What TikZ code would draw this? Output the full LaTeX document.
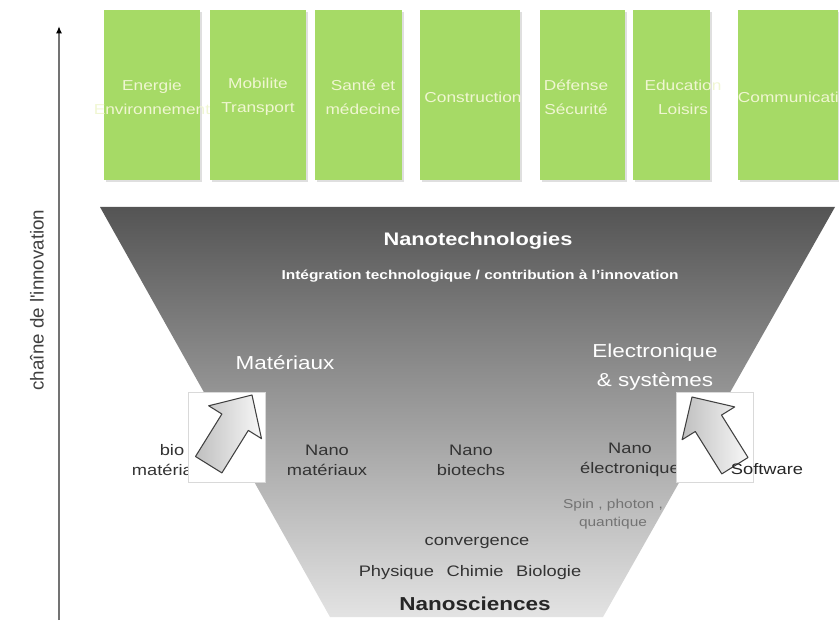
\documentclass[tikz,border=0pt]{standalone}
\usepackage{fontspec}
\setmainfont{Liberation Sans}[FakeStretch=1.2]
\newfontfamily\axefont{Liberation Sans}
\usetikzlibrary{arrows.meta, shadows}

\definecolor{vertsecteur}{RGB}{166,218,102}
\definecolor{textesecteur}{RGB}{240,246,210}

\begin{document}
\begin{tikzpicture}[
  x=0.03cm, y=-0.03cm,
  secteur/.style={rectangle, fill=vertsecteur, minimum height=5.1cm, inner sep=0pt, drop shadow={shadow xshift=0.05cm, shadow yshift=-0.05cm, opacity=0.25}},
  secteurtxt/.style={text=textesecteur, align=center, font=\fontsize{12.3}{20.5}\selectfont},
  titre/.style={text=white, font=\bfseries\fontsize{15.5}{18}\selectfont},
  soustitre/.style={text=white, font=\bfseries\fontsize{11}{13}\selectfont},
  domaine/.style={text=white, align=center, font=\fontsize{16}{24.8}\selectfont},
  nano/.style={text=black!80, align=center, font=\fontsize{13}{17}\selectfont},
  detail/.style={text=black!55, align=center, font=\fontsize{11}{15.4}\selectfont},
  apport/.style={rectangle, draw=black!15, fill=white, minimum width=2.3cm, minimum height=2.7cm},
  fleche/.style={draw=black!75, line width=0.9pt, line join=round, left color=black!25, right color=black!3},
  axe/.style={draw=black!55, line width=1.6pt, -{Latex[length=2.2mm, width=1.8mm, color=black]}}
]
\useasboundingbox (0,0) rectangle (839,623);

% axe de l'innovation
\coordinate (axe-bas) at (59,620);
\coordinate (axe-haut) at (59,26);
\draw[axe] (axe-bas) -- (axe-haut);
\node[rotate=90, text=black!75, font=\axefont\fontsize{16}{19}\selectfont] (chaine) at (37,300) {chaîne de l'innovation};

% secteurs d'application
\node[secteur, minimum width=2.88cm] (energie) at (152,95) {};
\node[secteurtxt] (energie-txt) at (152,97) {Energie\\Environnement};
\node[secteur, minimum width=2.88cm] (mobilite) at (258,95) {};
\node[secteurtxt] (mobilite-txt) at (258,97) {Mobilite\\Transport};
\node[secteur, minimum width=2.61cm] (sante) at (358.5,95) {};
\node[secteurtxt] (sante-txt) at (363,97) {Santé et\\médecine};
\node[secteur, minimum width=3cm] (construction) at (470,95) {};
\node[secteurtxt] (construction-txt) at (473,97) {Construction};
\node[secteur, minimum width=2.55cm] (defense) at (582.5,95) {};
\node[secteurtxt] (defense-txt) at (576,97) {Défense\\Sécurité};
\node[secteur, minimum width=2.31cm] (education) at (671.5,95) {};
\node[secteurtxt] (education-txt) at (683,97) {Education\\Loisirs};
\node[secteur, minimum width=3cm] (communication) at (788,95) {};
\node[secteurtxt] (communication-txt) at (798,97) {Communication};

% entonnoir
\shade[top color=black!67, bottom color=black!11] (100,207) -- (835,207) -- (603,617) -- (330,617) -- cycle;

\node[titre] (nanotech) at (478,241) {Nanotechnologies};
\node[soustitre] (integration) at (480,276) {Intégration technologique / contribution à l'innovation};
\node[domaine] (materiaux) at (285,363) {Matériaux};
\node[domaine] (electronique) at (655,367) {Electronique\\\& systèmes};

\node[nano] (biomat) at (172,460) {bio\\matériaux};
\node[nano] (nanomat) at (327,460) {Nano\\matériaux};
\node[nano] (nanobio) at (471,460) {Nano\\biotechs};
\node[nano] (nanoelec) at (630,460) {Nano\\électronique};
\node[detail] (spin) at (613,514) {Spin , photon ,\\quantique};
\node[nano] (convergence) at (477,543) {convergence};
\node[nano] (disciplines) at (470,573) {Physique\hspace{0.5em} Chimie\hspace{0.5em} Biologie};
\node[nano, text=black!85, font=\bfseries\fontsize{16}{19}\selectfont] (nanosciences) at (475,604) {Nanosciences};

% apports exterieurs
\node[apport] (apport-bio) at (226.5,437) {};
\node[apport] (apport-soft) at (715,437) {};
\draw[fleche] (252,395) -- (208.7,405.8) -- (221.9,414) -- (195.5,456.5) -- (221.9,472.9) -- (248.3,430.4) -- (261.5,438.6) -- cycle;
\draw[fleche] (692,397) -- (734.7,406.9) -- (721.5,415.1) -- (748,457.5) -- (721.8,473.9) -- (695.3,431.5) -- (682.1,439.7) -- cycle;
\node[nano, text=black!85] (software) at (767,469) {Software};
\end{tikzpicture}
\end{document}
